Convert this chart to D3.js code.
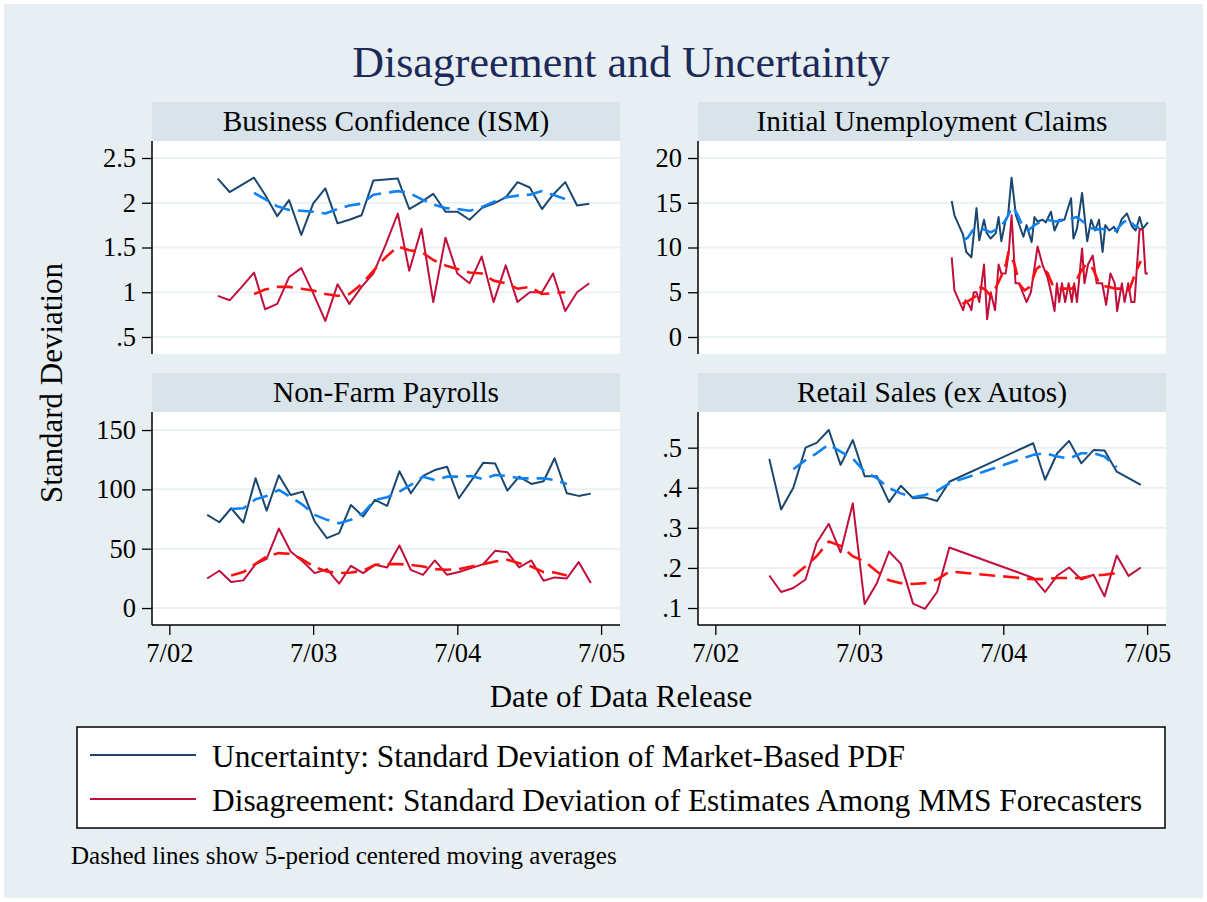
<!DOCTYPE html>
<html>
<head>
<meta charset="utf-8">
<title>Disagreement and Uncertainty</title>
<script src="https://cdn.jsdelivr.net/npm/d3@7/dist/d3.min.js"></script>
<style>
	body { margin: 0; background: #fff; }
	svg text { font-family: "Liberation Serif", "Times New Roman", serif; }
</style>
</head>
<body>
<div id="chart"></div>
<script>
// ---- data ----
var xTickDates = ["2002-07-01", "2003-07-01", "2004-07-01", "2005-07-01"];
var xTickLabels = ["7/02", "7/03", "7/04", "7/05"];

// Business Confidence (ISM), monthly
var ismDates = ["2002-11-01","2002-12-01","2003-01-01","2003-02-01","2003-03-01","2003-04-01","2003-05-01","2003-06-01",
	"2003-07-01","2003-08-01","2003-09-01","2003-10-01","2003-11-01","2003-12-01","2004-01-01","2004-02-01",
	"2004-03-01","2004-04-01","2004-05-01","2004-06-01","2004-07-01","2004-08-01","2004-09-01","2004-10-01",
	"2004-11-01","2004-12-01","2005-01-01","2005-02-01","2005-03-01","2005-04-01","2005-05-01","2005-06-01"];
var ismUnc = [2.27, 2.12, 2.20, 2.28, 2.09, 1.85, 2.03, 1.64, 1.99, 2.16, 1.77, 1.81, 1.86, 2.25, 2.26, 2.27,
	1.93, 2.01, 2.10, 1.90, 1.90, 1.81, 1.94, 1.99, 2.06, 2.23, 2.17, 1.93, 2.09, 2.23, 1.97, 1.99];
var ismDis = [0.96, 0.91, 1.06, 1.22, 0.81, 0.87, 1.17, 1.27, 0.99, 0.68, 1.09, 0.87, 1.06, 1.21, 1.53, 1.88,
	1.24, 1.71, 0.89, 1.61, 1.21, 1.10, 1.40, 0.89, 1.30, 0.89, 1.00, 1.00, 1.21, 0.79, 1.00, 1.10];
var ismMADates = ["2003-02-01","2003-03-01","2003-04-01","2003-05-01","2003-06-01","2003-07-01","2003-08-01",
	"2003-09-01","2003-10-01","2003-11-01","2003-12-01","2004-01-01","2004-02-01","2004-03-01","2004-04-01",
	"2004-05-01","2004-06-01","2004-07-01","2004-08-01","2004-09-01","2004-10-01","2004-11-01","2004-12-01",
	"2005-01-01","2005-02-01","2005-03-01","2005-04-01"];
var ismUncMA = [2.11, 2.04, 1.96, 1.92, 1.91, 1.90, 1.88, 1.93, 1.97, 1.99, 2.09, 2.11, 2.13, 2.11, 2.04,
	1.98, 1.94, 1.93, 1.91, 1.95, 2.01, 2.06, 2.08, 2.09, 2.13, 2.09, 2.04];
var ismDisMA = [0.98, 1.03, 1.06, 1.06, 1.04, 1.02, 0.98, 0.96, 0.98, 1.09, 1.24, 1.39, 1.51, 1.47, 1.45,
	1.36, 1.30, 1.26, 1.22, 1.21, 1.13, 1.10, 1.04, 1.06, 0.98, 0.99, 1.00];

// Initial Unemployment Claims, weekly
var claimsUncDates = ["2004-02-21","2004-02-28","2004-03-21","2004-03-29","2004-04-11","2004-04-24","2004-05-01",
	"2004-05-13","2004-05-20","2004-05-30","2004-06-12","2004-06-19","2004-06-26","2004-07-07","2004-07-13",
	"2004-07-22","2004-08-02","2004-08-21","2004-08-29","2004-09-11","2004-09-18","2004-09-26","2004-10-09",
	"2004-10-17","2004-10-30","2004-11-08","2004-11-20","2004-12-03","2004-12-20","2004-12-26","2005-01-04",
	"2005-01-17","2005-01-30","2005-02-09","2005-02-19","2005-03-01","2005-03-10","2005-03-17","2005-03-27",
	"2005-04-08","2005-04-16","2005-04-28","2005-05-11","2005-05-23","2005-06-02","2005-06-12","2005-06-20","2005-07-03"];
var claimsUnc = [15.2, 13.6, 11.4, 9.5, 8.9, 14.4, 10.8, 13.1, 11.6, 11.0, 11.6, 13.4, 10.7, 13.1, 13.6, 17.8,
	13.6, 11.2, 12.5, 10.6, 13.4, 12.9, 13.1, 12.8, 14.0, 11.9, 13.1, 13.1, 15.5, 11.0, 12.1, 16.1, 10.7, 13.1,
	11.9, 13.1, 9.5, 12.5, 11.9, 12.3, 11.7, 13.2, 13.8, 12.4, 11.9, 13.4, 12.1, 12.8];
var claimsDisDates = ["2004-02-21","2004-02-28","2004-03-21","2004-03-27","2004-04-05","2004-04-11","2004-04-17",
	"2004-04-24","2004-05-01","2004-05-13","2004-05-21","2004-05-30","2004-06-10","2004-06-19","2004-06-26",
	"2004-07-07","2004-07-15","2004-07-22","2004-08-01","2004-08-10","2004-08-19","2004-08-29","2004-09-09",
	"2004-09-26","2004-10-09","2004-10-21","2004-10-30","2004-11-08","2004-11-14","2004-11-20","2004-11-27",
	"2004-12-05","2004-12-14","2004-12-22","2004-12-28","2005-01-04","2005-01-17","2005-01-23","2005-02-01",
	"2005-02-13","2005-02-23","2005-03-09","2005-03-19","2005-03-30","2005-04-10","2005-04-16","2005-04-28",
	"2005-05-05","2005-05-14","2005-05-22","2005-05-30","2005-06-12","2005-06-20","2005-06-27","2005-07-03"];
var claimsDis = [8.9, 5.2, 3.0, 4.1, 3.6, 3.0, 5.0, 5.0, 3.9, 8.1, 2.0, 5.0, 3.0, 8.1, 7.1, 7.1, 9.5, 13.6,
	6.0, 6.0, 5.0, 3.9, 5.0, 10.1, 8.0, 6.7, 5.0, 2.9, 6.0, 3.9, 6.0, 3.9, 6.0, 3.9, 6.0, 3.9, 9.9, 6.0, 8.1,
	9.1, 6.0, 6.0, 3.6, 7.1, 6.0, 2.9, 6.0, 3.9, 6.0, 3.9, 3.9, 12.1, 12.0, 7.1, 7.1];
var claimsUncMADates = ["2004-03-21","2004-04-02","2004-04-14","2004-05-01","2004-05-13","2004-05-30","2004-06-21",
	"2004-07-08","2004-07-24","2004-08-07","2004-08-19","2004-09-02","2004-09-18","2004-10-05","2004-10-22",
	"2004-11-08","2004-11-25","2004-12-12","2005-01-03","2005-01-19","2005-02-06","2005-02-22","2005-03-09",
	"2005-03-27","2005-04-13","2005-04-29","2005-05-14","2005-05-28","2005-06-11"];
var claimsUncMA = [10.8, 11.1, 11.9, 12.2, 12.0, 11.7, 12.2, 13.1, 14.6, 13.6, 12.4, 11.9, 12.5, 12.9, 13.1,
	12.9, 13.0, 13.1, 13.4, 12.9, 12.2, 12.0, 12.1, 11.9, 11.9, 12.7, 13.2, 12.5, 12.2];
var claimsDisMADates = ["2004-03-19","2004-04-06","2004-04-23","2004-05-05","2004-05-18","2004-05-30","2004-06-13",
	"2004-06-25","2004-07-08","2004-07-14","2004-07-29","2004-08-11","2004-08-24","2004-09-06","2004-09-23",
	"2004-10-05","2004-10-22","2004-11-04","2004-11-21","2004-12-08","2004-12-24","2005-01-11","2005-01-28",
	"2005-02-14","2005-02-26","2005-03-09","2005-03-26","2005-04-13","2005-04-29","2005-05-16","2005-06-01","2005-06-15"];
var claimsDisMA = [3.7, 4.1, 4.6, 5.6, 5.2, 4.6, 5.6, 6.7, 8.2, 9.5, 8.2, 5.9, 5.2, 5.6, 7.6, 8.0, 7.1, 5.7,
	5.4, 5.4, 5.4, 7.1, 8.2, 7.6, 6.3, 5.7, 5.6, 5.4, 5.4, 5.2, 7.1, 8.5];

// Non-Farm Payrolls, monthly
var nfpDates = ["2002-10-05","2002-11-05","2002-12-05","2003-01-05","2003-02-05","2003-03-05","2003-04-05",
	"2003-05-05","2003-06-05","2003-07-05","2003-08-05","2003-09-05","2003-10-05","2003-11-05","2003-12-05",
	"2004-01-05","2004-02-05","2004-03-05","2004-04-05","2004-05-05","2004-06-05","2004-07-05","2004-08-05",
	"2004-09-05","2004-10-05","2004-11-05","2004-12-05","2005-01-05","2005-02-05","2005-03-05","2005-04-05",
	"2005-05-05","2005-06-05"];
var nfpUnc = [78.5, 72.3, 84.1, 72.0, 109.3, 82.1, 111.9, 95.3, 98.1, 72.9, 58.9, 63.1, 86.9, 77.1, 91.1, 86.1,
	115.2, 96.7, 111.3, 116.3, 119.1, 92.5, 107.1, 122.5, 121.9, 99.0, 110.7, 104.6, 106.8, 126.2, 96.7, 94.5, 96.4];
var nfpDis = [24.9, 31.4, 21.9, 23.3, 37.0, 41.5, 67.0, 47.7, 39.2, 29.4, 32.8, 20.5, 35.6, 29.4, 36.4, 34.2,
	52.7, 32.2, 28.0, 40.1, 28.0, 30.3, 33.6, 37.0, 48.2, 47.1, 34.2, 40.1, 23.0, 25.8, 24.9, 38.7, 21.0];
var nfpMADates = nfpDates.slice(2, 31);
var nfpUncMA = [83.5, 84.1, 91.7, 94.5, 99.5, 93.4, 86.9, 78.5, 74.3, 71.5, 74.3, 79.9, 91.1, 93.4, 98.1,
	103.7, 110.7, 107.9, 110.7, 110.7, 111.3, 108.5, 112.1, 111.3, 109.3, 109.3, 109.3, 107.9, 104.6];
var nfpDisMA = [27.5, 30.3, 37.3, 43.5, 46.3, 45.7, 40.7, 34.5, 30.8, 29.4, 30.0, 31.4, 36.4, 37.0, 37.0,
	36.4, 35.0, 32.8, 32.2, 32.8, 35.0, 37.0, 39.2, 40.7, 37.8, 35.0, 30.3, 30.0, 27.5];

// Retail Sales (ex Autos), monthly with a gap in 2004
var retDates = ["2002-11-15","2002-12-15","2003-01-15","2003-02-15","2003-03-15","2003-04-15","2003-05-15",
	"2003-06-15","2003-07-15","2003-08-15","2003-09-15","2003-10-15","2003-11-15","2003-12-15","2004-01-15",
	"2004-02-15","2004-09-15","2004-10-15","2004-11-15","2004-12-15","2005-01-15","2005-02-15","2005-03-15",
	"2005-04-15","2005-05-15","2005-06-15"];
var retUnc = [0.472, 0.346, 0.400, 0.500, 0.512, 0.544, 0.457, 0.519, 0.429, 0.429, 0.364, 0.405, 0.374,
	0.376, 0.367, 0.415, 0.511, 0.420, 0.486, 0.517, 0.461, 0.494, 0.493, 0.440, 0.424, 0.407];
var retDis = [0.181, 0.140, 0.150, 0.171, 0.262, 0.310, 0.239, 0.361, 0.110, 0.162, 0.241, 0.210, 0.111,
	0.098, 0.140, 0.251, 0.175, 0.140, 0.181, 0.201, 0.171, 0.183, 0.129, 0.231, 0.180, 0.201];
var retMADates = retDates.slice(2, 24);
var retUncMA = [0.446, 0.469, 0.486, 0.508, 0.490, 0.473, 0.440, 0.424, 0.399, 0.386, 0.376, 0.382, 0.392,
	0.411, 0.482, 0.486, 0.478, 0.473, 0.486, 0.486, 0.478, 0.451];
var retDisMA = [0.179, 0.204, 0.229, 0.266, 0.255, 0.229, 0.216, 0.191, 0.169, 0.162, 0.160, 0.162, 0.171,
	0.191, 0.172, 0.172, 0.175, 0.175, 0.175, 0.181, 0.183, 0.187];

var legendLabels = ["Uncertainty: Standard Deviation of Market-Based PDF",
	"Disagreement: Standard Deviation of Estimates Among MMS Forecasters"];

// ---- layout ----
var W = 1207, H = 902;
var pw = 468, ph = 213, headH = 39;
var colors = {unc: "#1a476f", uncMA: "#0f82f2", dis: "#c10f3c", disMA: "#ff1010"};
var parseDate = d3.timeParse("%Y-%m-%d");

var panels = [
	{title: "Business Confidence (ISM)", x: 152, y: 102, xAxis: false,
		ticks: [0.5, 1, 1.5, 2, 2.5], tickLabels: [".5", "1", "1.5", "2", "2.5"], yDomain: [0.310, 2.690],
		unc: [ismDates, ismUnc], dis: [ismDates, ismDis], uncMA: [ismMADates, ismUncMA], disMA: [ismMADates, ismDisMA]},
	{title: "Initial Unemployment Claims", x: 698, y: 102, xAxis: false,
		ticks: [0, 5, 10, 15, 20], tickLabels: ["0", "5", "10", "15", "20"], yDomain: [-1.90, 21.90],
		unc: [claimsUncDates, claimsUnc], dis: [claimsDisDates, claimsDis],
		uncMA: [claimsUncMADates, claimsUncMA], disMA: [claimsDisMADates, claimsDisMA]},
	{title: "Non-Farm Payrolls", x: 152, y: 373, xAxis: true,
		ticks: [0, 50, 100, 150], tickLabels: ["0", "50", "100", "150"], yDomain: [-14.3, 165.2],
		unc: [nfpDates, nfpUnc], dis: [nfpDates, nfpDis], uncMA: [nfpMADates, nfpUncMA], disMA: [nfpMADates, nfpDisMA]},
	{title: "Retail Sales (ex Autos)", x: 698, y: 373, xAxis: true,
		ticks: [0.1, 0.2, 0.3, 0.4, 0.5], tickLabels: [".1", ".2", ".3", ".4", ".5"], yDomain: [0.0576, 0.589],
		unc: [retDates, retUnc], dis: [retDates, retDis], uncMA: [retMADates, retUncMA], disMA: [retMADates, retDisMA]}
];

var svg = d3.select("#chart").append("svg")
	.attr("width", W)
	.attr("height", H);

// outer graph region
svg.append("rect")
	.attr("x", 4).attr("y", 4)
	.attr("width", W - 8).attr("height", H - 8)
	.attr("fill", "#e8eff2");

svg.append("text")
	.attr("x", 621).attr("y", 77)
	.attr("text-anchor", "middle")
	.attr("font-size", 44)
	.attr("fill", "#1c2a5a")
	.text("Disagreement and Uncertainty");

var x = d3.scaleTime()
	.domain([parseDate("2002-05-18"), parseDate("2005-08-18")])
	.range([0, pw]);

panels.forEach(function(p){
	var g = svg.append("g").attr("transform", "translate(" + p.x + "," + p.y + ")");

	// header strip
	g.append("rect")
		.attr("width", pw).attr("height", headH)
		.attr("fill", "#d8e4ea");
	g.append("text")
		.attr("x", pw / 2).attr("y", 29)
		.attr("text-anchor", "middle")
		.attr("font-size", 29.4)
		.text(p.title);

	var plot = g.append("g").attr("transform", "translate(0," + headH + ")");
	plot.append("rect")
		.attr("width", pw).attr("height", ph)
		.attr("fill", "#fff");

	var y = d3.scaleLinear().domain(p.yDomain).range([ph, 0]);

	// grid lines
	plot.selectAll(".grid")
		.data(p.ticks)
		.enter().append("line")
		.attr("x1", 0).attr("x2", pw)
		.attr("y1", function(d){ return y(d); })
		.attr("y2", function(d){ return y(d); })
		.attr("stroke", "#eaf1f3")
		.attr("stroke-width", 2);

	var yAxis = plot.append("g")
		.call(d3.axisLeft(y)
			.tickValues(p.ticks)
			.tickSize(10)
			.tickPadding(6)
			.tickFormat(function(d, i){ return p.tickLabels[i]; }));
	yAxis.select(".domain").remove();
	yAxis.selectAll("line").attr("stroke", "#000").attr("stroke-width", 1.3);
	yAxis.selectAll("text")
		.attr("font-size", 26.5)
		.attr("fill", "#000")
		.style("font-family", "'Liberation Serif', serif");
	plot.append("line")
		.attr("x1", 0).attr("x2", 0)
		.attr("y1", 0).attr("y2", ph)
		.attr("stroke", "#000").attr("stroke-width", 1.5);

	if (p.xAxis) {
		var xAxis = plot.append("g")
			.attr("transform", "translate(0," + ph + ")")
			.call(d3.axisBottom(x)
				.tickValues(xTickDates.map(parseDate))
				.tickSize(10)
				.tickPadding(8)
				.tickFormat(function(d, i){ return xTickLabels[i]; }));
		xAxis.select(".domain").remove();
		xAxis.selectAll("line").attr("stroke", "#000").attr("stroke-width", 1.3);
		xAxis.selectAll("text")
			.attr("font-size", 26.5)
			.attr("fill", "#000")
			.style("font-family", "'Liberation Serif', serif");
		plot.append("line")
			.attr("x1", 0).attr("x2", pw)
			.attr("y1", ph).attr("y2", ph)
			.attr("stroke", "#000").attr("stroke-width", 1.5);
	}

	var line = d3.line()
		.x(function(d){ return x(d.date); })
		.y(function(d){ return y(d.value); });

	function series(pair) {
		return pair[0].map(function(s, i){ return {date: parseDate(s), value: pair[1][i]}; });
	}

	var styles = [
		{key: "unc", width: 2, dash: null},
		{key: "dis", width: 2, dash: null},
		{key: "uncMA", width: 2.6, dash: "16,8"},
		{key: "disMA", width: 2.6, dash: "16,8"}
	];
	styles.forEach(function(s){
		plot.append("path")
			.attr("d", line(series(p[s.key])))
			.attr("fill", "none")
			.attr("stroke", colors[s.key])
			.attr("stroke-width", s.width)
			.attr("stroke-linejoin", "round")
			.attr("stroke-dasharray", s.dash);
	});
});

// axis titles
svg.append("text")
	.attr("transform", "translate(62,383) rotate(-90)")
	.attr("text-anchor", "middle")
	.attr("font-size", 31)
	.text("Standard Deviation");

svg.append("text")
	.attr("x", 621).attr("y", 707)
	.attr("text-anchor", "middle")
	.attr("font-size", 31)
	.text("Date of Data Release");

// legend
var legend = svg.append("g");
legend.append("rect")
	.attr("x", 77).attr("y", 727)
	.attr("width", 1088).attr("height", 101)
	.attr("fill", "#fff")
	.attr("stroke", "#000")
	.attr("stroke-width", 1.5);

[colors.unc, colors.dis].forEach(function(c, i){
	var ly = 755 + i * 44;
	legend.append("line")
		.attr("x1", 90).attr("x2", 196)
		.attr("y1", ly).attr("y2", ly)
		.attr("stroke", c).attr("stroke-width", 2);
	legend.append("text")
		.attr("x", 212).attr("y", ly + 12)
		.attr("font-size", 31.4)
		.text(legendLabels[i]);
});

svg.append("text")
	.attr("x", 71).attr("y", 864)
	.attr("font-size", 25)
	.text("Dashed lines show 5-period centered moving averages");
</script>
</body>
</html>
